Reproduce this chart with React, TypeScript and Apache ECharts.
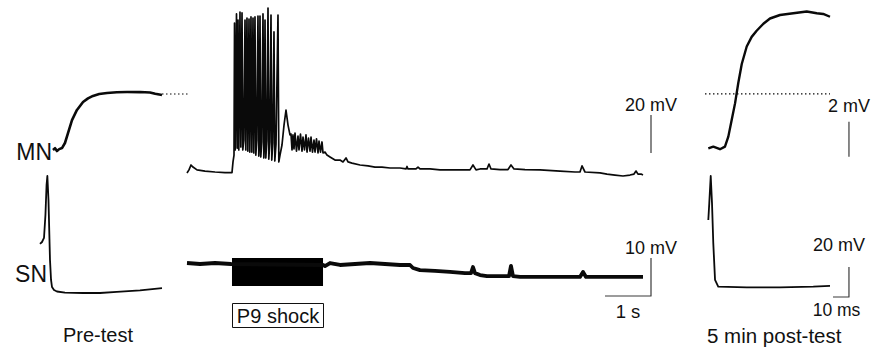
import React, { useEffect, useRef } from "react";
import * as echarts from "echarts";

// ---------------- DATA (time, membrane potential) ----------------
// Pre-test: motor neuron (MN) EPSP, time in ms, mV relative to rest
const preMN: [number, number][] = [
  [8.1, 0], [9.4, 0.1], [10.6, -0.06], [12, 0.05], [13.75, 0.11], [15.6, 0.4],
  [17.5, 0.97], [20, 1.71], [23.1, 2.29], [26.9, 2.74], [30, 2.95], [33.1, 3.09],
  [37, 3.2], [41.9, 3.26], [48, 3.3], [54.4, 3.31], [62.5, 3.31], [68.75, 3.29],
  [72, 3.22], [76.25, 3.14],
];
const preMNPeakRef: [number, number][] = [[76.25, 3.2], [92.5, 3.2]];

// Pre-test: sensory neuron (SN) action potential, ms / mV
const preSN: [number, number][] = [
  [0, 32.7], [1.25, 34], [2.5, 36.7], [3.4, 52], [4.1, 72], [4.6, 78], [5.3, 62],
  [6.25, 22], [6.9, 8.7], [7.5, 4], [8.75, 2], [10.6, 1], [15.6, 0.3], [26.9, 0],
  [37.5, 0], [48, 0.7], [62.5, 1.7], [76.25, 3.3],
];

// P9 shock: MN response, time in s, mV
const shockMN: [number, number][] = [
  [0, -0.5], [0.043, 1.1], [0.087, 3.7], [0.13, 2.6], [0.217, 1.1], [0.391, 0.5],
  [0.609, 0], [0.826, -0.3], [0.978, -0.3], [1.0, 5.3], [1.022, 8.9],
  [1.033, 78.4], [1.048, 11.6], [1.076, 83.2], [1.091, 12.6], [1.109, 80], [1.126, 11.6],
  [1.152, 84.2], [1.17, 13.2], [1.196, 83.7], [1.213, 11.6], [1.235, 16.8],
  [1.261, 80], [1.278, 11.6], [1.304, 81], [1.322, 11], [1.348, 80.5], [1.365, 10.5],
  [1.391, 81.6], [1.409, 10.5], [1.435, 81], [1.452, 10], [1.478, 81.6], [1.496, 8.9],
  [1.517, 16.8], [1.543, 82.1], [1.561, 8.4], [1.572, 14.2], [1.587, 82.1], [1.604, 7.9],
  [1.626, 15.8], [1.652, 83.2], [1.67, 7.4], [1.68, 13.7], [1.696, 80], [1.713, 7.4],
  [1.735, 16.3], [1.761, 86.3], [1.778, 6.8], [1.8, 15.8], [1.826, 82.6], [1.843, 6.3],
  [1.865, 15.3], [1.891, 73.7], [1.909, 5.8], [1.935, 14.7], [1.978, 82.6], [1.996, 5.3],
  [2.022, 8.9], [2.065, 14.2], [2.109, 24.7], [2.152, 32.6], [2.196, 24.7], [2.239, 19.5],
  [2.261, 20], [2.283, 11.6], [2.304, 19.5], [2.326, 12.1], [2.348, 20.5], [2.38, 11],
  [2.413, 18.9], [2.435, 11.6], [2.467, 20], [2.5, 11], [2.522, 18.4], [2.554, 11.6],
  [2.587, 19.5], [2.609, 10.5], [2.641, 17.9], [2.674, 11], [2.696, 18.4], [2.728, 10.5],
  [2.761, 16.8], [2.783, 10.5], [2.815, 17.4], [2.848, 10], [2.87, 16.3], [2.902, 10.5],
  [2.935, 15.8], [2.957, 10],
  [3.0, 10.5], [3.043, 8.9], [3.109, 7.9], [3.217, 6.3], [3.326, 6.3], [3.391, 5.3],
  [3.457, 7.4], [3.5, 5.3], [3.587, 4.7], [3.761, 3.7], [3.935, 3.2], [4.087, 2.6],
  [4.239, 2.6], [4.413, 2.1], [4.63, 2.1], [4.761, 1.6], [4.783, 2.9], [4.804, 1.6],
  [4.978, 1.6], [5.022, 2.6], [5.065, 1.6], [5.283, 1.6], [5.5, 1.1], [5.826, 1.1],
  [6.152, 1.1], [6.217, 3.7], [6.283, 1.1], [6.37, 1.6], [6.522, 1.6], [6.565, 4.2],
  [6.609, 1.6], [6.804, 1.3], [6.978, 1.3], [7.043, 3.7], [7.109, 1.6], [7.348, 1.3],
  [7.674, 1.1], [8.109, 0.5], [8.435, 0], [8.543, 0], [8.587, 3.2], [8.652, 0],
  [8.978, -0.5], [9.13, -1.1], [9.304, -1.6], [9.478, -2.1], [9.63, -1.6], [9.717, -1.1],
  [9.761, 0.5], [9.804, -1.1], [9.87, -1.1], [9.913, -1.6],
];

// P9 shock: SN recording, s / mV
const shockSN: [number, number][] = [
  [0, 0.26], [0.283, 0], [0.609, 0.26], [0.957, 0], [2.957, -0.26], [3.0, -0.53],
  [3.109, 0.26], [3.326, -0.26], [3.652, 0], [3.978, 0.26], [4.304, 0], [4.63, -0.26],
  [4.848, -0.26], [4.913, -1.05], [5.065, -1.6], [5.391, -1.8], [5.717, -2.1],
  [6.043, -2.4], [6.174, -2.4], [6.217, -0.8], [6.261, -2.4], [6.37, -2.9],
  [6.522, -3.2], [6.696, -3.2], [6.913, -3.2], [7.0, -3.2], [7.043, -0.5], [7.087, -3.2],
  [7.239, -3.4], [7.565, -3.4], [7.891, -3.4], [8.217, -3.4], [8.543, -3.4],
  [8.609, -2.1], [8.674, -3.4], [8.978, -3.4], [9.304, -3.4], [9.63, -3.4], [9.913, -3.4],
];
// Shock artifact block: start s, end s, top mV, bottom mV
const shockArtifactTime: number[] = [0.978, 2.957];
const shockArtifactRange: number[] = [1.6, -5.8];

// 5 min post-test: MN (ms / mV) and SN (ms / mV)
const postMN: [number, number][] = [
  [0.2, -0.02], [3.3, 0.08], [7.5, -0.07], [10.6, 0.08], [12.7, 0.65], [14.8, 1.6],
  [16.9, 2.55], [18.9, 3.7], [21.1, 4.8], [24.2, 5.8], [27.3, 6.35], [30.4, 6.7],
  [34.6, 7.1], [38.75, 7.4], [45, 7.6], [53.3, 7.7], [61.7, 7.8], [68, 7.7],
  [72, 7.66], [76.25, 7.5],
];
const postMNPreRef: [number, number][] = [[-1.9, 3.09], [76.25, 3.09]];
const postSN: [number, number][] = [
  [0.2, 44.7], [0.8, 56], [1.7, 74], [2.5, 56], [3.3, 29.3], [4.4, 4.7], [6.4, 0.2],
  [24.2, -0.2], [45, -0.2], [65.8, 0.2], [76.25, 0.7],
];

// Scale bar sizes (data units)
const scaleCenterMV = 20;
const scaleCenterSNmV = 10;
const scaleCenterS = 1;
const scalePostMNmV = 2;
const scalePostSNmV = 20;
const scalePostMs = 10;

// Labels
const labelTexts = {
  mn: "MN", sn: "SN", pre: "Pre-test", post: "5 min post-test", shock: "P9 shock",
};

// ---------------- LAYOUT ----------------
type Panel = { ox: number; oy: number; px: number; py: number; x: [number, number]; y: [number, number] };
const panels: Panel[] = [
  { ox: 40, oy: 150, px: 1.6, py: 17.5, x: [-5, 95], y: [-1, 5] },      // 0 pre MN
  { ox: 40, oy: 293, px: 1.6, py: 1.5, x: [-5, 95], y: [-10, 90] },     // 1 pre SN
  { ox: 187, oy: 172, px: 46, py: 1.9, x: [-0.2, 10.4], y: [-10, 90] }, // 2 shock MN
  { ox: 187, oy: 264, px: 46, py: 3.8, x: [-0.2, 10.4], y: [-12, 6] },  // 3 shock SN
  { ox: 708, oy: 148, px: 1.6, py: 17.5, x: [-5, 95], y: [-1, 8.3] },   // 4 post MN
  { ox: 708, oy: 287, px: 1.6, py: 1.5, x: [-5, 95], y: [-10, 80] },    // 5 post SN
];
// scale bar anchors
const centerBarT = 10.087;
const centerMNBarBase = 10;
const centerSNBarBase = -8.42;
const postBarT = 88.1;
const postMNBarBase = -0.5;
const postSNBarBase = -6.67;

const FONT = "Liberation Sans";
const TRACE = "#0a0a0a";
const BAR = "#3a3a3a";

function line(idx: number, data: [number, number][], width: number, color = TRACE, type: any = "solid", extra: any = {}) {
  return {
    type: "line",
    xAxisIndex: idx,
    yAxisIndex: idx,
    data,
    symbol: "none",
    showSymbol: false,
    silent: true,
    lineStyle: { width, color, type, join: "round" },
    ...extra,
  };
}

function txt(text: string, x: number, y: number, size: number, align = "center") {
  return {
    type: "text",
    silent: true,
    style: {
      text, x, y, fill: "#111", fontSize: size, fontFamily: FONT,
      textAlign: align, textVerticalAlign: "middle",
    },
  };
}

export default function App() {
  const ref = useRef<HTMLDivElement>(null);
  useEffect(() => {
    if (!ref.current) return;
    const chart = echarts.init(ref.current, undefined, { renderer: "svg" });
    const grid = panels.map((p) => ({
      left: p.ox + p.x[0] * p.px,
      top: p.oy - p.y[1] * p.py,
      width: (p.x[1] - p.x[0]) * p.px,
      height: (p.y[1] - p.y[0]) * p.py,
      containLabel: false,
      show: false,
    }));
    const xAxis = panels.map((p, i) => ({ type: "value", gridIndex: i, min: p.x[0], max: p.x[1], show: false }));
    const yAxis = panels.map((p, i) => ({ type: "value", gridIndex: i, min: p.y[0], max: p.y[1], show: false }));

    const series: any[] = [
      line(0, preMN, 2.6),
      line(0, preMNPeakRef, 1.2, TRACE, [1.5, 2.5]),
      line(1, preSN, 1.8),
      line(2, shockMN, 1.7),
      line(3, shockSN, 3.8, TRACE, "solid", {
        markArea: {
          silent: true,
          itemStyle: { color: "#000", opacity: 1 },
          data: [[
            { coord: [shockArtifactTime[0], shockArtifactRange[0]] },
            { coord: [shockArtifactTime[1], shockArtifactRange[1]] },
          ]],
        },
      }),
      line(4, postMN, 2.4),
      line(4, postMNPreRef, 1.2, TRACE, [1.5, 2.5]),
      line(5, postSN, 1.8),
      // scale bars
      line(2, [[centerBarT, centerMNBarBase], [centerBarT, centerMNBarBase + scaleCenterMV]], 1.2, BAR),
      line(3, [[centerBarT - scaleCenterS, centerSNBarBase], [centerBarT, centerSNBarBase], [centerBarT, centerSNBarBase + scaleCenterSNmV]], 1.2, BAR),
      line(4, [[postBarT, postMNBarBase], [postBarT, postMNBarBase + scalePostMNmV]], 1.2, BAR),
      line(5, [[postBarT - scalePostMs, postSNBarBase], [postBarT, postSNBarBase], [postBarT, postSNBarBase + scalePostSNmV]], 1.2, BAR),
    ];

    chart.setOption({
      animation: false,
      backgroundColor: "#fff",
      grid, xAxis, yAxis, series,
      graphic: [
        txt(labelTexts.mn, 52, 152, 23, "right"),
        txt(labelTexts.sn, 47, 274, 23, "right"),
        txt(labelTexts.pre, 63, 335, 20, "left"),
        txt(labelTexts.post, 707, 335, 20.5, "left"),
        {
          type: "rect", silent: true,
          shape: { x: 232.5, y: 303.5, width: 91, height: 24 },
          style: { fill: "none", stroke: "#111", lineWidth: 1 },
        },
        txt(labelTexts.shock, 278, 315.5, 20),
        txt(`${scaleCenterMV} mV`, 651, 105, 18),
        txt(`${scaleCenterSNmV} mV`, 651, 248, 18),
        txt(`${scaleCenterS} s`, 628, 311.5, 18.5),
        txt(`${scalePostMNmV} mV`, 849, 106, 18),
        txt(`${scalePostSNmV} mV`, 839, 245, 18),
        txt(`${scalePostMs} ms`, 836.5, 310, 17.5),
      ],
    });
    return () => chart.dispose();
  }, []);
  return (
    <div
      ref={ref}
      style={{ position: "absolute", left: 0, top: 0, width: 885, height: 347, background: "#fff" }}
    />
  );
}
